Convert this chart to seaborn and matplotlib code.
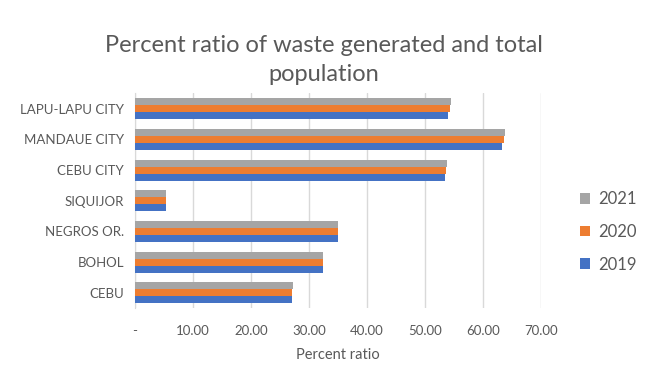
import pandas as pd
import numpy as np
import matplotlib.pyplot as plt
import seaborn as sns

# data (top to bottom)
cities = ["LAPU-LAPU CITY", "MANDAUE CITY", "CEBU CITY", "SIQUIJOR",
          "NEGROS OR.", "BOHOL", "CEBU"]
ratio_2021 = [54.6, 63.8, 53.8, 5.4, 35.1, 32.4, 27.2]
ratio_2020 = [54.4, 63.6, 53.6, 5.4, 35.1, 32.4, 27.0]
ratio_2019 = [54.0, 63.3, 53.5, 5.4, 35.1, 32.4, 27.1]
years = ["2021", "2020", "2019"]
x_ticks = [0, 10, 20, 30, 40, 50, 60, 70]
x_ticklabels = ["-", "10.00", "20.00", "30.00", "40.00", "50.00", "60.00", "70.00"]

df = pd.DataFrame({
    "City": cities * 3,
    "Year": [y for y in years for _ in cities],
    "Ratio": ratio_2021 + ratio_2020 + ratio_2019,
})

sns.set_style("white")
plt.rcParams['font.family'] = ['Lato', 'DejaVu Sans']
text_col = "#595959"

fig = plt.figure(figsize=(6.47, 3.70), dpi=100)
ax = fig.add_axes([0.2087, 0.1676, 0.627, 0.5797])

palette = {"2021": "#a5a5a5", "2020": "#ed7d31", "2019": "#4472c4"}
sns.barplot(data=df, y="City", x="Ratio", hue="Year", hue_order=years,
            order=cities, palette=palette, width=0.685, saturation=1,
            orient="h", ax=ax, linewidth=0, zorder=3)

ax.set_xlim(0, 70)
ax.set_xticks(x_ticks)
ax.set_xticklabels(x_ticklabels)
ax.grid(axis="x", color="#d9d9d9", linewidth=1, zorder=0)
ax.set_axisbelow(True)
for s in ["top", "right", "bottom"]:
    ax.spines[s].set_visible(False)
ax.spines["left"].set_color("#d9d9d9")
ax.tick_params(axis="both", length=0, labelcolor=text_col, labelsize=9.5)
ax.tick_params(axis="x", pad=12)
ax.tick_params(axis="y", pad=8)
ax.set_ylabel("")
ax.set_xlabel("Percent ratio", color=text_col, fontsize=10.5, labelpad=8)

fig.suptitle("Percent ratio of waste generated and total\npopulation",
             x=0.5, y=0.905, va="top", color=text_col, fontsize=17,
             linespacing=1.45)

ax.legend(loc="center left", bbox_to_anchor=(1.06, 0.355), frameon=False,
          handlelength=0.6, handleheight=0.6, handletextpad=0.5,
          labelspacing=1.0, fontsize=12, labelcolor=text_col)

fig.savefig("out.png", dpi=100)
